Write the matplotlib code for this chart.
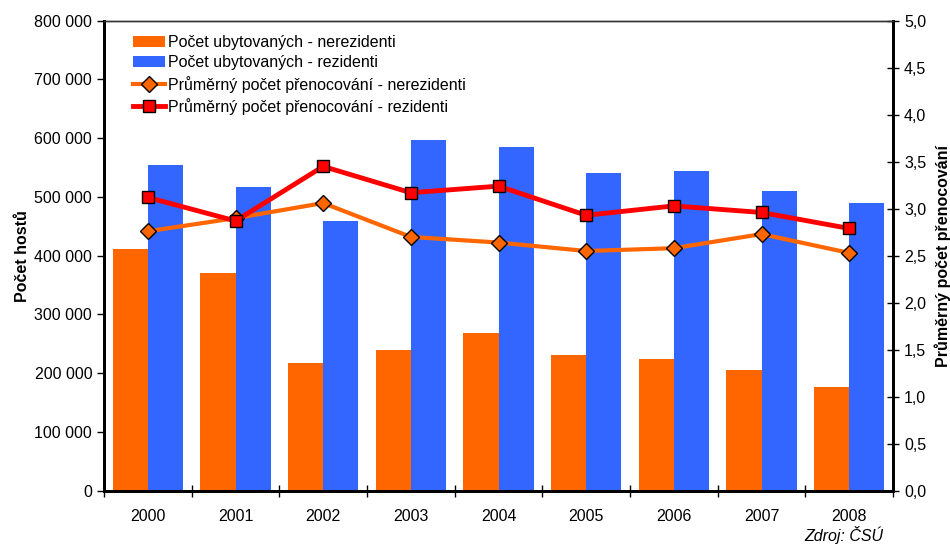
import matplotlib.pyplot as plt
import matplotlib.ticker as mticker
import numpy as np

plt.rcParams['font.family'] = ['Liberation Sans', 'DejaVu Sans']

# data
years = ['2000', '2001', '2002', '2003', '2004', '2005', '2006', '2007', '2008']
hoste_nerez = [412000, 370000, 217000, 239500, 269000, 231500, 225000, 206000, 177000]
hoste_rez = [554000, 517000, 458500, 597000, 585000, 540000, 544000, 509500, 489000]
prenoc_nerez = [2.76, 2.90, 3.06, 2.70, 2.64, 2.55, 2.58, 2.73, 2.53]
prenoc_rez = [3.12, 2.87, 3.45, 3.17, 3.24, 2.93, 3.03, 2.96, 2.79]

c_orange = '#FF6600'
c_blue = '#3366FF'
c_red = '#FF0000'

fig = plt.figure(figsize=(9.5, 5.45), dpi=100)
ax = fig.add_axes([0.1095, 0.0996, 0.8305, 0.8624])
ax2 = ax.twinx()

x = np.arange(len(years))
w = 0.4026

b1 = ax.bar(x - w / 2, hoste_nerez, w, color=c_orange, label='Počet ubytovaných - nerezidenti')
b2 = ax.bar(x + w / 2, hoste_rez, w, color=c_blue, label='Počet ubytovaných - rezidenti')

l1, = ax2.plot(x, prenoc_nerez, color=c_orange, lw=3, marker='D', ms=8,
               mfc=c_orange, mec='black', mew=1,
               label='Průměrný počet přenocování - nerezidenti')
l2, = ax2.plot(x, prenoc_rez, color=c_red, lw=3.5, marker='s', ms=9,
               mfc=c_red, mec='black', mew=1,
               label='Průměrný počet přenocování - rezidenti')

ax.set_xlim(-0.5, len(years) - 0.5)
ax.set_ylim(0, 800000)
ax2.set_ylim(0, 5)

ax.yaxis.set_major_locator(mticker.MultipleLocator(100000))
ax.yaxis.set_major_formatter(mticker.FuncFormatter(lambda v, p: '{:,.0f}'.format(v).replace(',', ' ')))
ax2.yaxis.set_major_locator(mticker.MultipleLocator(0.5))
ax2.yaxis.set_major_formatter(mticker.FuncFormatter(lambda v, p: '{:.1f}'.format(v).replace('.', ',')))

# year labels centred, ticks at category boundaries
ax.set_xticks(x)
ax.set_xticklabels(years, fontsize=11.5)
ax.tick_params(axis='x', which='major', length=0, pad=13)
ax.set_xticks(np.arange(-0.5, len(years), 1), minor=True)
ax.tick_params(axis='x', which='minor', length=9, direction='inout', width=1)

ax.tick_params(axis='y', labelsize=11.5, length=5, width=1, direction='out')
ax2.tick_params(axis='y', labelsize=11.5, length=9, width=1, direction='inout')

for a in (ax, ax2):
    a.spines['left'].set_linewidth(2)
    a.spines['right'].set_linewidth(2)
    a.spines['bottom'].set_linewidth(2)
    a.spines['top'].set_linewidth(1)
    a.spines['top'].set_color('#333333')

ax.set_ylabel('Počet hostů', fontsize=11.5, fontweight='bold', labelpad=3)
ax2.set_ylabel('Průměrný počet přenocování', fontsize=11.5, fontweight='bold', labelpad=6)

ax2.legend([b1, b2, l1, l2], [b1.get_label(), b2.get_label(), l1.get_label(), l2.get_label()],
           loc='upper left', bbox_to_anchor=(0.018, 1.0), frameon=False, fontsize=11.5,
           handlelength=2.0, handletextpad=0.2, labelspacing=0.33)

fig.text(0.93, 0.001, 'Zdroj: ČSÚ', fontsize=11.5, style='italic', ha='right', va='bottom')

fig.savefig('out.png', dpi=100)
